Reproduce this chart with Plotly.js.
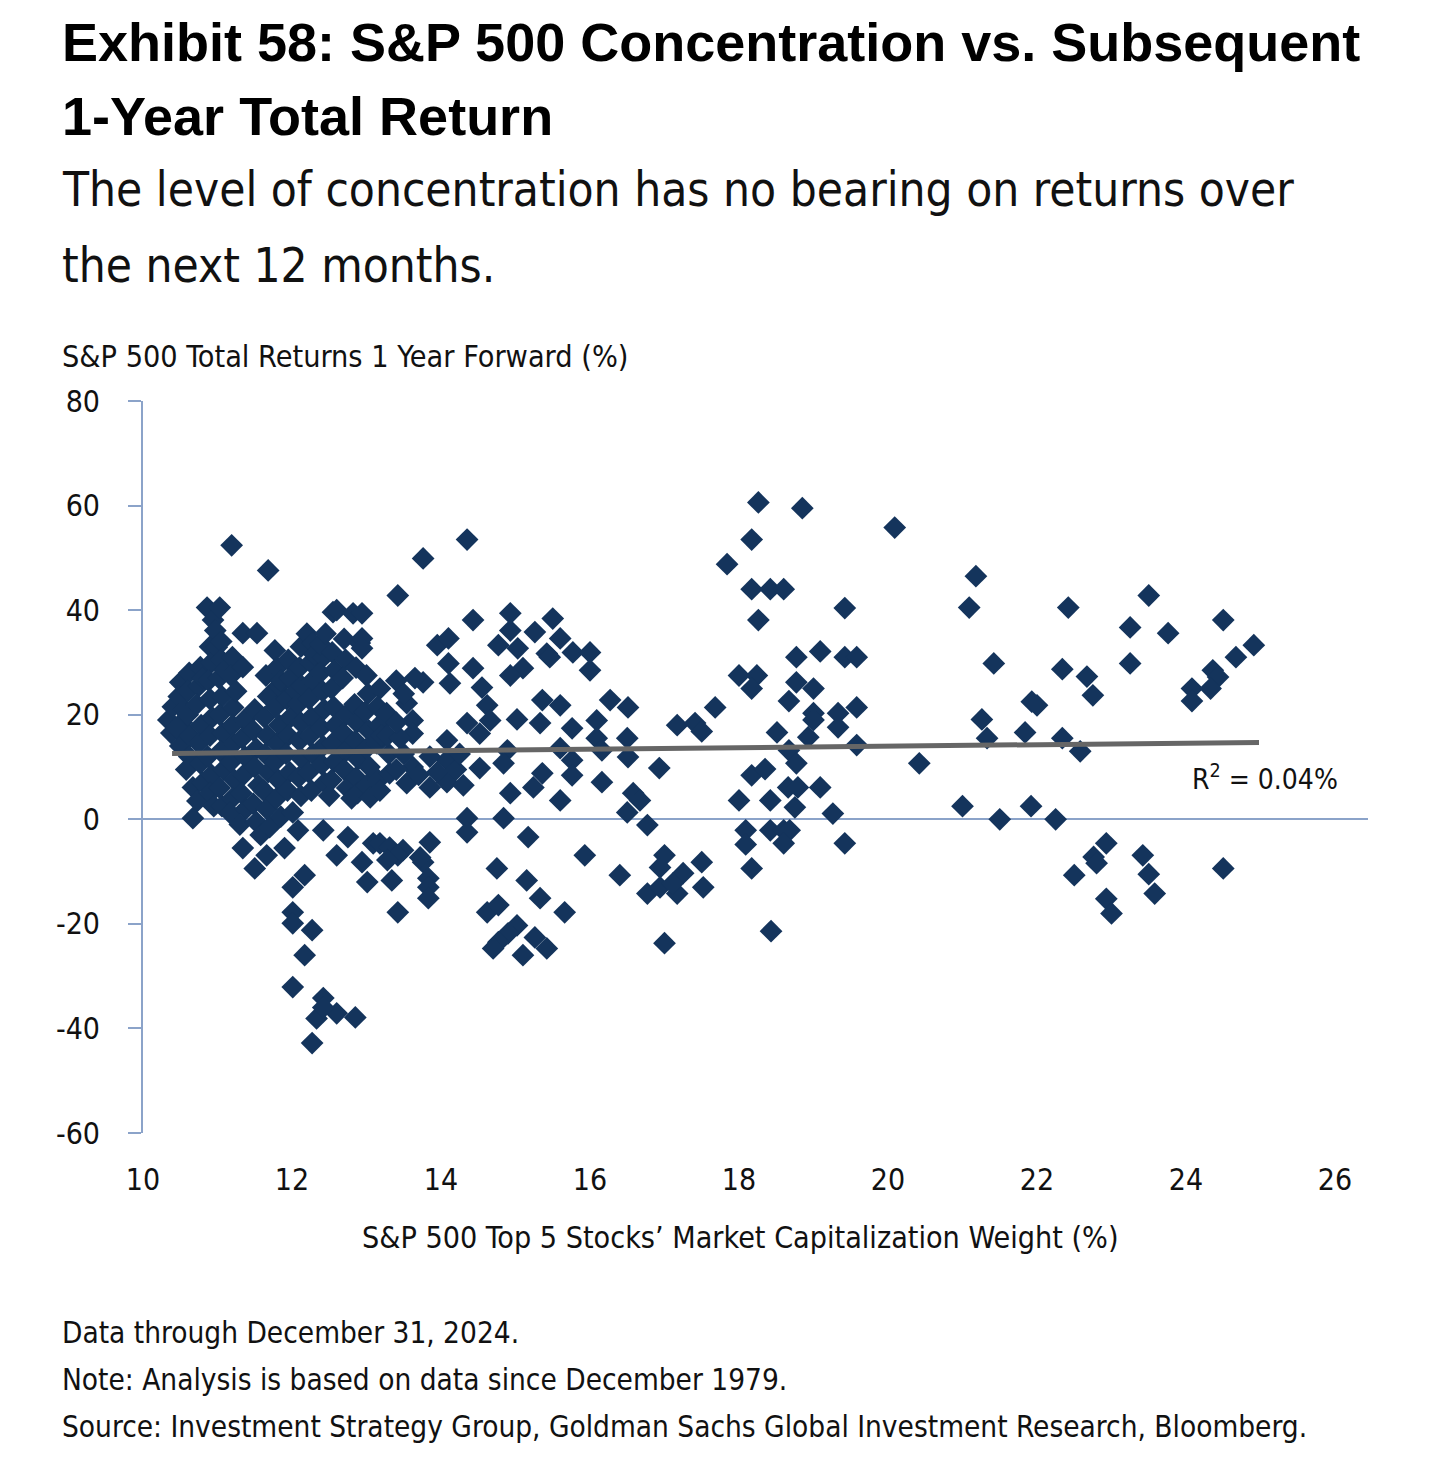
<!DOCTYPE html>
<html>
<head>
<meta charset="utf-8">
<script src="https://cdn.plot.ly/plotly-3.0.1.min.js"></script>
<style>
  html, body { margin: 0; padding: 0; background: #fff; }
  #chart { width: 1456px; height: 1466px; }
</style>
</head>
<body>
<div id="chart"></div>
<script>
// Points: [top-5 weight %, 1y fwd total return %]
const denseCluster = [
  [10.34,19],[10.38,16.5],[10.4,21.5],
  [10.5,26.2],[10.48,23.5],[10.52,18.5],[10.5,14],[10.55,21],[10.45,17.5],
  [10.62,28],[10.6,24.5],[10.6,20],[10.63,16],[10.62,12],[10.58,9.5],[10.67,6.1],[10.67,0.2],
  [10.77,29.1],[10.75,25.5],[10.72,22],[10.78,18],[10.75,14.5],[10.77,10.7],[10.8,7],[10.73,3.5],[10.8,27],
  [10.86,40.5],[10.94,38.1],[10.9,33],[10.92,30],[10.88,26.5],[10.9,23],[10.93,19.5],[10.9,16],[10.87,12],[10.92,8.5],[10.9,5],[10.95,2.5],
  [11.03,40.5],[10.99,32.9],[10.97,36.1],[11.05,34],[11.05,30.5],[11.02,27],[11.06,23.5],[11.03,20],[11.07,16.5],[11.04,13],[11.08,9.5],[11.03,6],[11.06,2.5],[11.1,28.5],
  [11.19,52.4],[11.2,31],[11.18,27.5],[11.21,21.4],[11.2,18],[11.22,14.5],[11.18,11],[11.23,7.5],[11.2,4],[11.17,1.2],[11.25,24.5],
  [11.34,35.6],[11.34,29.1],[11.36,19],[11.33,15.5],[11.37,12],[11.35,8.5],[11.32,5],[11.38,2],[11.34,-5.5],[11.3,-1],
  [11.53,35.6],[11.5,21],[11.48,17],[11.52,13.5],[11.5,10],[11.55,6.5],[11.48,3],[11.52,-0.5],[11.5,-9.4],[11.58,-3],
  [11.68,47.6],[11.77,32.3],[11.65,27.5],[11.68,23.5],[11.63,19.5],[11.67,16],[11.64,12.5],[11.68,9],[11.62,5.5],[11.66,2],[11.66,-6.9],[11.7,-1.5],
  [11.8,29],[11.82,25.5],[11.78,21.5],[11.83,18],[11.8,14.5],[11.77,11],[11.82,7.5],[11.79,4],[11.85,0.5],[11.9,-5.5],[11.85,26.5],
  [11.95,30.5],[11.97,27],[11.93,23],[11.98,19.5],[11.95,16],[11.92,12.5],[11.97,9],[11.94,5.5],[12.01,1.3],[12.08,-2.1],[12.05,24.5],
  [12.12,33],[12.1,29],[12.13,25.5],[12.08,22],[12.12,18.5],[12.1,15],[12.14,11.5],[12.09,8],[12.12,4.5],[12.2,35.5],
  [12.28,33.7],[12.25,30],[12.27,26.5],[12.23,23],[12.26,19.5],[12.24,16],[12.28,12.5],[12.22,9],[12.26,5.5],[12.3,31.5],
  [12.42,31],[12.38,28],[12.41,24.5],[12.43,21],[12.39,17.5],[12.42,14],[12.4,10.5],[12.44,7],[12.42,-2.1],[12.38,33.5],[12.45,35.5],[12.5,4.5],
  [12.55,39.6],[12.54,31.9],[12.57,28.5],[12.53,25],[12.56,21.5],[12.58,18],[12.54,14.5],[12.57,11],[12.53,7.5],[12.6,-6.9],[12.6,40.0],
  [12.72,30.5],[12.68,27],[12.73,20],[12.69,16.5],[12.72,13],[12.7,9.5],[12.74,6],[12.75,-3.4],[12.82,39.4],[12.7,34.5],[12.8,4.0],
  [12.91,33.7],[12.94,39.4],[12.94,34.6],[12.94,32.7],[12.86,29],[12.84,22],[12.87,18.5],[12.85,15],[12.89,11.5],[12.86,8],[12.88,5],[12.94,-8.2],[13.01,-12],[13.09,-4.6],
  [13.0,27.5],[13.02,24],[12.98,20.5],[13.03,17],[13.0,13.5],[13.04,10],[13.0,6.5],[13.05,4.2],
  [13.18,25],[13.15,21.5],[13.17,18],[13.14,14.5],[13.16,7.5],[13.18,5.5],[13.18,-4.6],[13.2,16],
  [13.27,20.3],[13.31,8.8],[13.3,12.5],[13.28,16],[13.31,-5.4],[13.34,-11.7],[13.49,-5.9],[13.42,-6.9],[13.28,-7.8],
  [12.17,-10.7],[12.01,-13],[12.01,-17.8],[12.01,-19.9],[12.27,-21.2],[12.17,-26],[12.01,-32.1],
  [12.42,-34.2],[12.33,-38.1],[12.6,-37.1],[12.85,-37.9],[12.27,-42.8],[12.42,-36]
];

const midCluster = [
  [13.42,42.8],[13.76,49.9],[14.35,53.5],[14.43,38.1],[14.93,39.4],[15.5,38.4],[15.26,35.8],[14.93,36.1],
  [14.77,33.3],[15.03,32.7],[15.42,31.7],[15.77,31.9],[16.0,31.9],[15.6,34.6],[15.1,28.9],[14.93,27.5],
  [16.0,28.5],[15.46,31.0],[13.95,33.3],[14.1,34.6],[14.1,29.8],[14.43,28.9],[13.76,26.2],[14.12,26.0],
  [14.55,25.2],[13.54,22.2],[14.62,21.8],[13.62,18.9],[14.35,18.4],[14.66,18.9],[15.02,19.1],[15.36,22.8],
  [15.6,21.8],[15.33,18.4],[15.76,17.4],[16.27,22.8],[16.51,21.4],[16.09,18.9],[13.62,16.4],[14.08,15.1],
  [14.52,16.4],[14.89,13.2],[14.84,10.7],[14.52,9.8],[14.08,11.3],[13.62,10.0],[13.54,6.9],[13.85,6.1],
  [14.08,7.1],[16.09,15.5],[16.16,13.2],[16.5,15.5],[16.51,11.9],[15.76,11.3],[15.76,8.4],[15.36,8.8],
  [15.24,6.1],[16.16,7.1],[14.93,5.0],[15.6,3.6],[16.58,5.0],[16.5,1.3],[14.35,0.2],[14.35,-2.5],
  [14.84,0.2],[15.17,-3.4],[15.93,-6.9],[16.4,-10.7],[14.75,-9.4],[15.15,-11.7],[15.33,-15.1],[15.66,-17.8],
  [14.62,-17.8],[14.77,-16.4],[15.02,-20.3],[14.9,-21.8],[14.77,-23.5],[14.7,-24.7],[15.26,-22.6],[15.42,-24.7],
  [15.1,-26.0],[13.85,-4.4],[13.76,-8.2],[13.72,-7.3],[13.83,-11.3],[13.83,-13.0],[13.83,-15.1],[13.42,-17.8],
  [13.4,9.5],[13.7,8.5],[13.95,9],[14.2,9.5],[13.5,12.5],[13.85,12],[14.25,12.5],[13.45,15.5],[14.3,6.5],
  [13.4,26.5],[13.5,24],[13.65,27],[13.4,18.5],
  [17.17,18.0],[17.41,18.4],[17.5,16.8],[15.6,13.6],[16.93,9.8],[16.67,3.6],[16.77,-1.1],
  [17.0,-6.9],[16.94,-9.2],[17.25,-10.3],[17.5,-8.2],[16.77,-14.2],[16.94,-13.0],[17.17,-14.2],[17.11,-12.3],
  [17.52,-13.0],[17.0,-23.7]
];

const cluster18to20 = [
  [18.26,60.6],[18.85,59.5],[18.17,53.5],[17.84,48.8],[18.17,44.0],[18.42,44.0],[18.6,44.0],[18.26,38.1],
  [19.42,40.4],[18.77,31.0],[19.09,32.1],[19.42,31.0],[19.58,31.0],[18.0,27.5],[18.24,27.5],[18.17,25.0],
  [18.77,26.2],[19.0,25.0],[18.67,22.6],[17.68,21.4],[19.0,20.3],[19.0,19.0],[19.33,20.3],[19.58,21.4],
  [19.33,17.6],[18.51,16.6],[18.93,15.7],[19.58,14.2],[18.67,13.2],[18.77,10.7],[18.17,8.4],[18.35,9.6],
  [18.66,6.1],[18.79,6.1],[19.09,6.1],[18.75,2.3],[18.0,3.6],[18.42,3.6],[19.26,1.1],[18.09,-2.1],
  [18.09,-4.8],[18.42,-2.1],[18.6,-2.1],[18.68,-2.1],[18.6,-4.6],[19.42,-4.6],[18.17,-9.4],[18.43,-21.4]
];

const recentCluster = [
  [20.09,55.8],[20.42,10.7],[21.18,46.5],[21.09,40.5],[22.42,40.5],[21.42,29.8],[22.34,28.7],[22.67,27.3],
  [22.75,23.7],[21.93,22.5],[22.0,21.8],[21.26,19.1],[21.33,15.5],[21.84,16.6],[22.34,15.5],[22.58,13.0],
  [21.0,2.5],[21.5,0],[21.92,2.5],[22.25,0],[22.93,-4.6],[22.76,-7.2],[22.8,-8.4],[22.5,-10.7],
  [22.93,-15.2],[23.0,-18],[23.25,36.7],[23.25,29.8],[23.5,42.8],[23.76,35.6],[24.5,38.1],[24.91,33.3],
  [24.67,31.0],[24.36,28.5],[24.43,27.2],[24.08,25.0],[24.33,25.0],[24.08,22.6],[23.42,-6.9],[23.5,-10.5],
  [23.58,-14.2],[24.5,-9.4]
];

// Linear trend line as drawn in the reference
const trendX = [10.39, 24.98];
const trendY = [12.6, 14.7];

const xTicks = [10, 12, 14, 16, 18, 20, 22, 24, 26];
const yTicks = [-60, -40, -20, 0, 20, 40, 60, 80];

const allPoints = denseCluster.concat(midCluster, cluster18to20, recentCluster);

// pixel -> paper helpers (plot box: left 143, right 1368, top 401, bottom 1133)
const L = 143, R = 1368, T = 401, B = 1133;
const px = v => (v - L) / (R - L);
const py = v => (B - v) / (B - T);

const NARROW = '"Liberation Sans Narrow", "DejaVu Sans Condensed", "Roboto", sans-serif';
const BOLD = '"Liberation Sans", "Arial", sans-serif';

const traces = [
  {
    x: allPoints.map(p => p[0]),
    y: allPoints.map(p => p[1]),
    type: 'scatter',
    mode: 'markers',
    marker: { symbol: 'diamond', size: 17.5, color: '#14345c', line: { width: 0 } },
    hoverinfo: 'x+y'
  },
  {
    x: trendX,
    y: trendY,
    type: 'scatter',
    mode: 'lines',
    line: { color: '#666666', width: 5 },
    hoverinfo: 'skip'
  }
];

function note(text, x, y, size, opts) {
  return Object.assign({
    text: text, xref: 'paper', yref: 'paper', x: px(x), y: py(y),
    xanchor: 'left', yanchor: 'middle', showarrow: false,
    font: { family: NARROW, size: size, color: '#111' }
  }, opts || {});
}

const layout = {
  width: 1456,
  height: 1466,
  paper_bgcolor: '#ffffff',
  plot_bgcolor: '#ffffff',
  showlegend: false,
  margin: { l: L, r: 1456 - R, t: T, b: 1466 - B, pad: 0 },
  font: { family: NARROW, size: 30, color: '#111' },
  xaxis: {
    range: [10, 10 + (R - L) / 74.5],
    tickvals: xTicks,
    ticktext: xTicks.map(String),
    showgrid: false, zeroline: false, showline: false, ticks: '',
    ticklabelstandoff: 26,
    tickfont: { family: NARROW, size: 30, color: '#111' }
  },
  yaxis: {
    range: [-60, 80],
    tickvals: yTicks,
    ticktext: yTicks.map(String),
    showgrid: false,
    zeroline: true, zerolinecolor: '#8ba3c9', zerolinewidth: 2,
    showline: true, linecolor: '#8ba3c9', linewidth: 2,
    ticks: 'outside', ticklen: 13, tickwidth: 2, tickcolor: '#8ba3c9',
    ticklabelstandoff: 22,
    tickfont: { family: NARROW, size: 30, color: '#111' }
  },
  annotations: [
    note('<b>Exhibit 58: S&P 500 Concentration vs. Subsequent</b>', 60, 42, 54, { font: { family: BOLD, size: 54, color: '#000' } }),
    note('<b>1-Year Total Return</b>', 60, 116, 54, { font: { family: BOLD, size: 54, color: '#000' } }),
    note('The level of concentration has no bearing on returns over', 60, 190, 47.4),
    note('the next 12 months.', 60, 265, 47.4),
    note('S&P 500 Total Returns 1 Year Forward (%)', 60, 357, 30.3),
    note('S&P 500 Top 5 Stocks’ Market Capitalization Weight (%)', 740, 1237, 30.2, { xanchor: 'center' }),
    note('Data through December 31, 2024.', 60, 1333, 29.5),
    note('Note: Analysis is based on data since December 1979.', 60, 1380, 29.5),
    note('Source: Investment Strategy Group, Goldman Sachs Global Investment Research, Bloomberg.', 60, 1427, 29.5),
    {
      text: 'R<sup>2</sup> = 0.04%', xref: 'x', yref: 'y', x: 25.06, y: 8.0,
      xanchor: 'center', yanchor: 'middle', showarrow: false,
      font: { family: NARROW, size: 28, color: '#111' }
    }
  ]
};

Plotly.newPlot('chart', traces, layout, { displayModeBar: false, responsive: false });
</script>
</body>
</html>
